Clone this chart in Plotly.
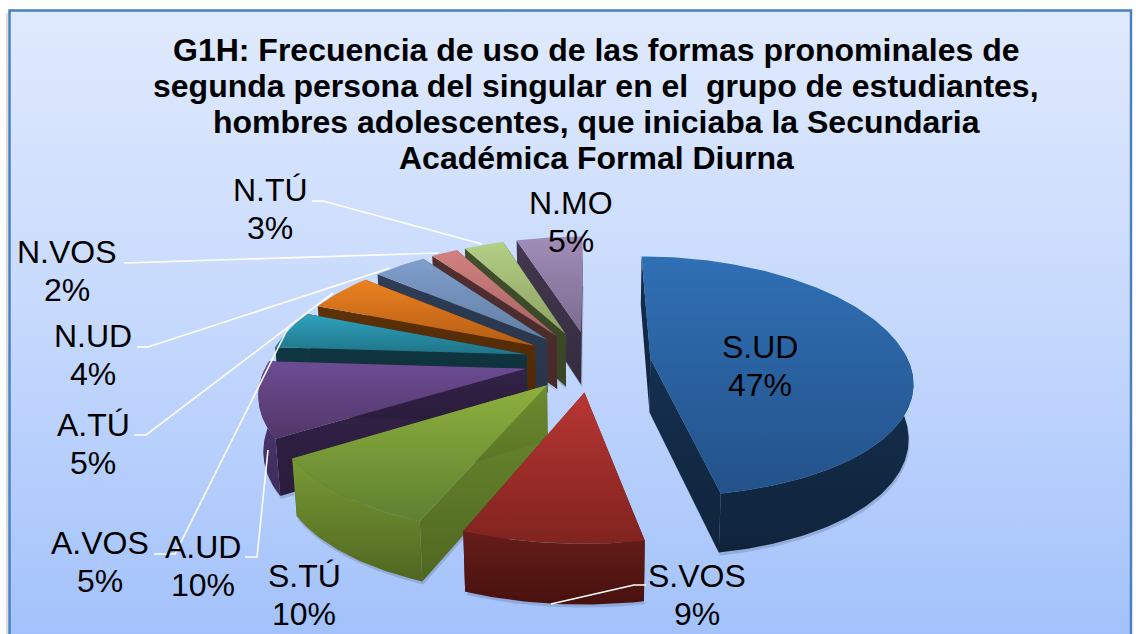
import math
import plotly.graph_objects as go

# --- data -----------------------------------------------------------------
labels = ["S.UD", "S.VOS", "S.TÚ", "A.UD", "A.VOS", "A.TÚ", "N.UD", "N.VOS", "N.TÚ", "N.MO"]
values = [47, 9, 10, 10, 5, 5, 4, 2, 3, 5]
title_lines = [
    "G1H: Frecuencia de uso de las formas pronominales de",
    "segunda persona del singular en el\u00a0 grupo de estudiantes,",
    "hombres adolescentes, que iniciaba la Secundaria",
    "Académica Formal Diurna",
]

# --- styles ---------------------------------------------------------------
top_colors = [("#3070b5", "#23528a"), ("#b83633", "#80231f"), ("#8db03e", "#5f8030"),
              ("#6c4c94", "#523768"), ("#2ea2bc", "#1f7488"), ("#ec821f", "#b45c15"),
              ("#809ecd", "#627fa4"), ("#d28280", "#a56362"),
              ("#b4cf86", "#8ba061"), ("#a18db9", "#7c6b90")]
wall_colors = [("#14304f", "#10233b"), ("#661d19", "#47110e"), ("#6d8c30", "#4f6620"),
               ("#33234a", "#2a1c3b"), ("#0f3743", "#0f3039"), ("#5e3209", "#4f2805"),
               ("#2e3d55", "#28354a"), ("#502f30", "#482a2b"), ("#414f2b", "#384526"),
               ("#43384f", "#352c40")]
outer_colors = list(wall_colors)
outer_colors[3] = ("#523a75", "#3f2b5c")
outer_colors[2] = ("#7a9a36", "#4f6620")
label_pos = [(760, 366), (697, 595), (304, 595), (203, 566), (100, 562),
             (93, 444), (93, 355), (67, 271), (270, 209), (571, 222)]
title_y = [50, 86, 122, 158]
leaders = [
    [(551, 604), (634, 585), (646, 585)],
    [(245, 557), (257, 557), (268, 450)],
    [(154, 554), (175, 554), (288, 328)],
    [(134, 435), (146, 435), (333, 293)],
    [(137, 347), (148, 347), (390, 268)],
    [(124, 263), (438, 253)],
    [(312, 201), (323, 201), (482, 244)],
]

# --- projection of the tilted, exploded pie -------------------------------
CX, CY, F, FB, PERSP_X, PERSP_Y = 591, 361, 258, 118, 0.175, 0.15
DEPTH = 54
pulls = [0.232 if i == 0 else 0.258 for i in range(len(values))]


def project(x, z, low=False):
    px = F * x / (1 + PERSP_X * z)
    py = -FB * z / (1 + PERSP_Y * z)
    if low:
        return CX + px * 0.985, CY + py + DEPTH * (1 - 0.1 * z)
    return CX + px, CY + py


def poly(pts, colors, name, gradient="vertical"):
    xs = [p[0] for p in pts] + [pts[0][0]]
    ys = [p[1] for p in pts] + [pts[0][1]]
    return go.Scatter(
        x=xs, y=ys, mode="lines", name=name, line=dict(width=0, color=colors[1]),
        fill="toself", hoverinfo="skip", showlegend=False,
        # the y axis runs downward, so the scale is given bottom colour first
        fillgradient=dict(type=gradient, colorscale=[[0, colors[1]], [1, colors[0]]]),
    )


total = sum(values)
wedges = []
start = 0.0
for i, v in enumerate(values):
    span = 360.0 * v / total
    wedges.append((i, start, start + span))
    start += span


def apex_of(w):
    i, a0, a1 = w
    m = math.radians((a0 + a1) / 2)
    return pulls[i] * math.sin(m), pulls[i] * math.cos(m)


fig = go.Figure()

# panel background
fig.add_trace(go.Scatter(
    x=[10, 1131, 1131, 10, 10], y=[11, 11, 634, 634, 11], mode="lines",
    line=dict(width=0), fill="toself", hoverinfo="skip", showlegend=False, name="fondo",
    fillgradient=dict(type="vertical", colorscale=[[0, "#a3c2fb"], [0.5, "#c6d9fd"], [1, "#e0eafd"]]),
))

for w in sorted(wedges, key=lambda w: -apex_of(w)[1]):
    i, a0, a1 = w
    ax, az = apex_of(w)
    n = max(4, int(a1 - a0))
    angs = [math.radians(a0 + (a1 - a0) * k / n) for k in range(n + 1)]
    rim = [(ax + math.sin(t), az + math.cos(t)) for t in angs]
    name = labels[i]
    # soft shadow under the slice
    shadow = [project(x, z, True) for x, z in rim]
    fig.add_trace(go.Scatter(
        x=[p[0] + 1 for p in shadow] + [project(ax, az, True)[0] + 1],
        y=[p[1] + 3 for p in shadow] + [project(ax, az, True)[1] + 3],
        mode="lines", line=dict(width=0), fill="toself", fillcolor="rgba(60,75,110,0.22)",
        hoverinfo="skip", showlegend=False, name=name + " sombra",
    ))
    # radial side walls
    for ex, ez in (rim[0], rim[-1]):
        pts = [project(ax, az), project(ex, ez), project(ex, ez, True), project(ax, az, True)]
        fig.add_trace(poly(pts, wall_colors[i], name + " lado"))
    # outer wall: only the part that faces the viewer
    front = [(x, z) for t, (x, z) in zip(angs, rim) if math.cos(t) < 0.05]
    if len(front) > 1:
        pts = [project(x, z) for x, z in front] + [project(x, z, True) for x, z in reversed(front)]
        fig.add_trace(poly(pts, outer_colors[i], name + " borde"))
    # top face
    pts = [project(ax, az)] + [project(x, z) for x, z in rim]
    fig.add_trace(poly(pts, top_colors[i], name))

for seg in leaders:
    fig.add_trace(go.Scatter(
        x=[p[0] for p in seg], y=[p[1] for p in seg], mode="lines",
        line=dict(color="white", width=1.6), hoverinfo="skip", showlegend=False, name="guía",
    ))

annotations = []
for line, yy in zip(title_lines, title_y):
    annotations.append(dict(
        x=596, y=yy, xref="x", yref="y", showarrow=False, text=line,
        xanchor="center", yanchor="middle",
        font=dict(family="Liberation Sans, Arial", size=32, color="#000000", weight="bold"),
    ))
for i, (lab, v) in enumerate(zip(labels, values)):
    for txt, off in ((lab, -19), (f"{v}%", 19)):
        annotations.append(dict(
            x=label_pos[i][0], y=label_pos[i][1] + off, xref="x", yref="y", showarrow=False,
            text=txt, xanchor="center", yanchor="middle",
            font=dict(family="Liberation Sans, Arial", size=32, color="#000000"),
        ))

fig.update_layout(
    width=1136, height=634, margin=dict(l=0, r=0, t=0, b=0),
    paper_bgcolor="white", plot_bgcolor="rgba(0,0,0,0)", showlegend=False,
    xaxis=dict(range=[0, 1136], visible=False, fixedrange=True),
    yaxis=dict(range=[634, 0], visible=False, fixedrange=True),
    annotations=annotations,
    shapes=[
        dict(type="line", xref="x", yref="y", x0=7, y0=13, x1=7, y1=634,
             line=dict(color="#dddddd", width=2), layer="below"),
        dict(type="rect", xref="x", yref="y", x0=9.5, y0=10.5, x1=1131, y1=640,
             line=dict(color="#4a80c0", width=2.5), fillcolor="rgba(0,0,0,0)", layer="above"),
    ],
)

fig.write_html("out.html", config={"displayModeBar": False},
               post_script="document.body.style.margin='0';document.body.style.overflow='hidden';")
